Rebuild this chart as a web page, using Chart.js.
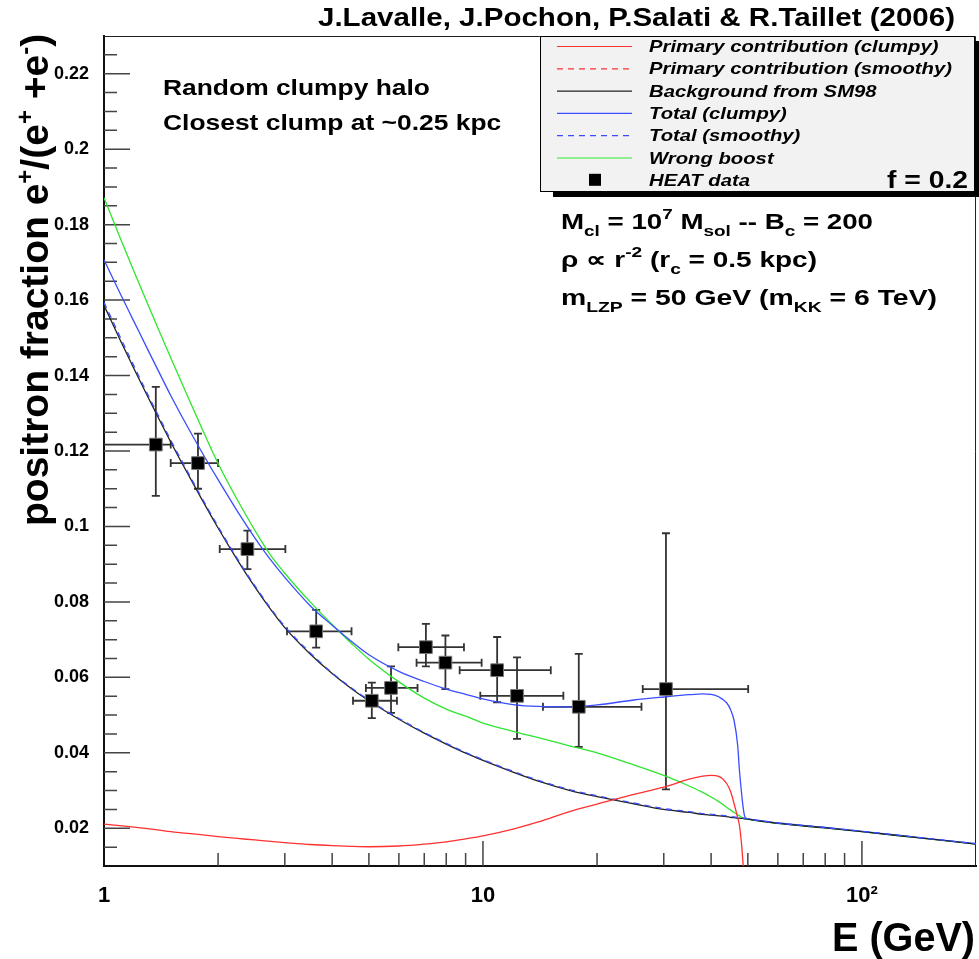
<!DOCTYPE html>
<html>
<head>
<meta charset="utf-8">
<script src="https://cdn.jsdelivr.net/npm/chart.js@4.4.0/dist/chart.umd.min.js"></script>
<style>
  html, body { margin: 0; padding: 0; background: #fff; }
  canvas { display: block; }
</style>
</head>
<body>
<canvas id="myChart" width="979" height="959"></canvas>
<script>
// energy grid (GeV) shared by all model curves
const energy = [1, 1.1, 1.2, 1.3, 1.4, 1.5, 1.6, 1.8,
  2, 2.25, 2.5, 2.75, 3, 3.5,
  4, 4.5, 5, 6, 7, 8, 9, 10,
  12, 14, 17, 20, 25, 30, 35, 38,
  40, 42, 44, 45, 46, 47, 47.5, 48,
  48.5, 49, 49.5, 50, 60, 80, 100, 140,
  200]

const background = [0.1586, 0.1497, 0.1418, 0.1347, 0.1283, 0.1224, 0.1171, 0.1077,
  0.0996, 0.0911, 0.0840, 0.0781, 0.0732, 0.0662,
  0.0610, 0.0570, 0.0538, 0.0489, 0.0452, 0.0423, 0.0399, 0.0380,
  0.0349, 0.0325, 0.0300, 0.0284, 0.0265, 0.0250, 0.0242, 0.0237,
  0.0235, 0.0233, 0.0231, 0.0229, 0.0228, 0.0227, 0.0227, 0.0226,
  0.0226, 0.0225, 0.0225, 0.0224, 0.0213, 0.0201, 0.0191, 0.0175,
  0.0158]

const totalSmooth = [0.1594, 0.1505, 0.1425, 0.1353, 0.1289, 0.1229, 0.1176, 0.1081,
  0.1000, 0.0914, 0.0843, 0.0784, 0.0735, 0.0665,
  0.0612, 0.0572, 0.0540, 0.0491, 0.0454, 0.0425, 0.0401, 0.0382,
  0.0351, 0.0327, 0.0302, 0.0286, 0.0267, 0.0252, 0.0244, 0.0239,
  0.0237, 0.0235, 0.0233, 0.0231, 0.0230, 0.0229, 0.0228, 0.0228,
  0.0227, 0.0226, 0.0226, 0.0225, 0.0214, 0.0202, 0.0192, 0.0176,
  0.0159]

const totalClumpy = [0.1707, 0.1620, 0.1543, 0.1472, 0.1407, 0.1347, 0.1294, 0.1202,
  0.1124, 0.1040, 0.0970, 0.0912, 0.0865, 0.0790,
  0.0738, 0.0695, 0.0660, 0.0616, 0.0589, 0.0569, 0.0555, 0.0543,
  0.0528, 0.0523, 0.0522, 0.0527, 0.0540, 0.0548, 0.0554, 0.0556,
  0.0555, 0.0548, 0.0532, 0.0515, 0.0485, 0.0420, 0.0355, 0.0305,
  0.0262, 0.0233, 0.0226, 0.0225, 0.0214, 0.0202, 0.0192, 0.0176,
  0.0159]

const primaryClumpy = [0.0211, 0.0207, 0.0203, 0.0199, 0.0195, 0.0191, 0.0188, 0.0183,
  0.0178, 0.0173, 0.0169, 0.0165, 0.0162, 0.0157,
  0.0154, 0.0152, 0.0151, 0.0153, 0.0158, 0.0164, 0.0172, 0.0180,
  0.0198, 0.0217, 0.0245, 0.0264, 0.0290, 0.0309, 0.0330, 0.0338,
  0.0340, 0.0337, 0.0318, 0.0298, 0.0265, 0.0228, 0.0208, 0.0170,
  0.0115, 0.0040, null, null, null, null, null, null,
  null]

const wrongBoost = [0.1871, 0.1768, 0.1676, 0.1593, 0.1517, 0.1447, 0.1383, 0.1267,
  0.1167, 0.1070, 0.0990, 0.0924, 0.0876, 0.0800,
  0.0740, 0.0690, 0.0648, 0.0588, 0.0545, 0.0516, 0.0497, 0.0479,
  0.0457, 0.0440, 0.0418, 0.0400, 0.0368, 0.0340, 0.0312, 0.0295,
  0.0283, 0.0270, 0.0255, 0.0248, 0.0242, 0.0236, 0.0233, 0.0230,
  0.0228, 0.0225, 0.0225, 0.0224, 0.0213, 0.0201, 0.0191, 0.0175,
  0.0158]

// HEAT positron fraction with bin edges and error bars
const heatE = [1.37, 1.77, 2.39, 3.63, 5.09, 5.72, 7.07, 7.96, 10.9, 12.3, 17.9, 30.4]
const heatFrac = [0.1217, 0.1168, 0.0940, 0.0722, 0.0538, 0.0572, 0.0680, 0.0639, 0.0619, 0.0551, 0.0522, 0.0569]
const heatLow = [0.1081, 0.1100, 0.0887, 0.0679, 0.0492, 0.0506, 0.0629, 0.0569, 0.0534, 0.0437, 0.0416, 0.0303]
const heatHigh = [0.1370, 0.1246, 0.0989, 0.0779, 0.0586, 0.0629, 0.0742, 0.0711, 0.0707, 0.0653, 0.0662, 0.0982]
const heatEmin = [0.95, 1.50, 2.02, 3.04, 4.54, 4.91, 5.98, 6.68, 8.68, 9.84, 14.4, 26.4]
const heatEmax = [1.50, 2.00, 3.01, 4.50, 5.93, 6.72, 8.91, 9.92, 15.1, 16.3, 26.2, 50.1]

const yTicks = [0.02, 0.04, 0.06, 0.08, 0.1, 0.12, 0.14, 0.16, 0.18, 0.2, 0.22]

const legendOrder = ['Primary contribution (clumpy)', 'Primary contribution (smoothy)', 'Background from SM98',
  'Total (clumpy)', 'Total (smoothy)', 'Wrong boost', 'HEAT data']

const fam = '"Liberation Sans", Arial, Helvetica, sans-serif'
const red = '#ff3030', blue = '#3a4dff', green = '#2ee62e', black = '#222'

const pts = ys => energy.map((e, i) => ({ x: e, y: ys[i] }))

// draws a run of [text, scale, dy] pieces, stretched horizontally by sx
function rich(c, x, y, parts, size, opts = {}) {
    const style = opts.style || 'bold'
    let w = 0
    parts.forEach(([t, k]) => {
        c.font = `${style} ${Math.round(size * k)}px ${fam}`
        w += c.measureText(t).width
    })
    if (opts.measure) return w
    const sx = opts.width ? opts.width / w : (opts.sx || 1)
    c.save()
    c.translate(x, y)
    c.scale(sx, 1)
    let cx = 0
    parts.forEach(([t, k, dy]) => {
        c.font = `${style} ${Math.round(size * k)}px ${fam}`
        c.fillText(t, cx, dy)
        cx += c.measureText(t).width
    })
    c.restore()
    return w * sx
}

function fitted(c, text, left, baseline, size, width, style) {
    return rich(c, left, baseline, [[text, 1, 0]], size, { width, style })
}

const rootFrame = {
    id: 'rootFrame',
    beforeDatasetsDraw(chart) {
        const { ctx: c, chartArea: a, scales: { x, y } } = chart
        c.save()
        c.strokeStyle = '#222'
        c.lineWidth = 1
        c.beginPath()
        c.moveTo(a.left, a.top + 0.5)
        c.lineTo(a.right - 0.5, a.top + 0.5)
        c.lineTo(a.right - 0.5, a.bottom)
        c.stroke()

        // inner tick marks
        c.strokeStyle = '#444'
        c.lineWidth = 1.5
        c.beginPath()
        for (let k = 3; k < 46; k++) {
            const py = y.getPixelForValue(k * 0.005)
            c.moveTo(a.left, py)
            c.lineTo(a.left + (k % 4 === 0 ? 26 : 13), py)
        }
        ;[1, 10, 100].forEach(d => {
            for (let m = 1; m <= 9; m++) {
                const v = m * d
                if (v <= 1 || v >= 200) continue
                const px = x.getPixelForValue(v)
                c.moveTo(px, a.bottom)
                c.lineTo(px, a.bottom - (m === 1 ? 25 : 13))
            }
        })
        c.stroke()

        // HEAT error bars
        c.beginPath()
        c.rect(a.left, a.top, a.width, a.height)
        c.clip()
        c.strokeStyle = '#333'
        c.lineWidth = 1.8
        heatE.forEach((e, i) => {
            const px = x.getPixelForValue(e), py = y.getPixelForValue(heatFrac[i])
            const x0 = x.getPixelForValue(heatEmin[i]), x1 = x.getPixelForValue(heatEmax[i])
            const y0 = y.getPixelForValue(heatLow[i]), y1 = y.getPixelForValue(heatHigh[i])
            c.beginPath()
            c.moveTo(x0, py); c.lineTo(x1, py)
            c.moveTo(px, y0); c.lineTo(px, y1)
            c.moveTo(x0, py - 4); c.lineTo(x0, py + 4)
            c.moveTo(x1, py - 4); c.lineTo(x1, py + 4)
            c.moveTo(px - 4, y0); c.lineTo(px + 4, y0)
            c.moveTo(px - 4, y1); c.lineTo(px + 4, y1)
            c.stroke()
        })
        c.restore()
    },
    afterDraw(chart) {
        const c = chart.ctx
        c.save()
        c.textBaseline = 'alphabetic'

        // legend box with shadow
        c.fillStyle = '#000'
        c.fillRect(553, 192, 426, 5)
        c.fillRect(975, 41, 4, 156)
        c.fillStyle = '#f2f2f2'
        c.fillRect(540, 36, 435, 156)
        c.strokeStyle = '#000'
        c.lineWidth = 1
        c.strokeRect(540.5, 36.5, 434, 155)

        const sets = chart.data.datasets
        c.font = `italic bold 16.5px ${fam}`
        const legSx = 281 / c.measureText(legendOrder[0]).width
        legendOrder.forEach((label, i) => {
            const ds = sets.find(d => d.label === label)
            const cy = 46 + i * 22.3
            if (label === 'HEAT data') {
                c.fillStyle = '#000'
                c.fillRect(589, cy - 6, 12, 12)
            } else {
                c.strokeStyle = ds.borderColor
                c.lineWidth = 1.2
                c.setLineDash(ds.borderDash || [])
                c.beginPath()
                c.moveTo(557, cy + 0.5)
                c.lineTo(632, cy + 0.5)
                c.stroke()
                c.setLineDash([])
            }
            c.fillStyle = '#000'
            rich(c, 649, cy + 6, [[label, 1, 0]], 16.5, { style: 'italic bold', sx: legSx })
        })
        fitted(c, 'f = 0.2', 887, 188, 24, 81)

        // header
        fitted(c, 'J.Lavalle, J.Pochon, P.Salati & R.Taillet (2006)', 318, 26, 25, 637)

        // halo description
        rich(c, 163, 95, [['Random clumpy halo', 1, 0]], 22, { sx: 1.2 })
        rich(c, 163, 130, [['Closest clump at ~0.25 kpc', 1, 0]], 22, { sx: 1.2 })

        // model parameters
        rich(c, 561, 229, [['M', 1, 0], ['cl', 0.7, 7], [' = 10', 1, 0], ['7', 0.7, -10], [' M', 1, 0],
            ['sol', 0.7, 7], [' -- B', 1, 0], ['c', 0.7, 7], [' = 200', 1, 0]], 22, { width: 312 })
        rich(c, 561, 267, [['\u03c1 \u221d r', 1, 0], ['-2', 0.7, -10], [' (r', 1, 0], ['c', 0.7, 7],
            [' = 0.5 kpc)', 1, 0]], 22, { width: 256 })
        rich(c, 561, 305, [['m', 1, 0], ['LZP', 0.7, 7], [' = 50 GeV (m', 1, 0], ['KK', 0.7, 7],
            [' = 6 TeV)', 1, 0]], 22, { width: 376 })

        // axis titles
        fitted(c, 'E (GeV)', 832, 951, 40, 143)

        const yTitle = [['positron fraction e', 1, 0], ['+', 0.62, -14], ['/(e', 1, 0], ['+', 0.62, -14],
            [' +e', 1, 0], ['-', 0.62, -14], [')', 1, 0]]
        const w = rich(c, 0, 0, yTitle, 36, { measure: true })
        const size = 36 * 492 / w
        c.translate(48, 526)
        c.rotate(-Math.PI / 2)
        rich(c, 0, 0, yTitle.map(([t, k, dy]) => [t, k, dy * size / 36]), size)
        c.restore()
    }
}

const ctx = document.getElementById('myChart')
new Chart(ctx, {
    type: 'line',
    data: {
        datasets: [
            {
                label: 'HEAT data',
                data: heatE.map((e, i) => ({ x: e, y: heatFrac[i] })),
                showLine: false,
                pointStyle: 'rect',
                pointRadius: 9,
                backgroundColor: '#000',
                borderColor: '#777',
                borderWidth: 1
            },
            { label: 'Primary contribution (clumpy)', data: pts(primaryClumpy), borderColor: red },
            { label: 'Primary contribution (smoothy)', data: [], borderColor: red, borderDash: [6, 5] },
            { label: 'Total (smoothy)', data: pts(totalSmooth), borderColor: blue, borderDash: [6, 5] },
            { label: 'Background from SM98', data: pts(background), borderColor: black },
            { label: 'Total (clumpy)', data: pts(totalClumpy), borderColor: blue },
            { label: 'Wrong boost', data: pts(wrongBoost), borderColor: green }
        ]
    },
    options: {
        responsive: false,
        animation: false,
        layout: { autoPadding: false, padding: { top: 36, right: 3, left: 0, bottom: 0 } },
        elements: {
            point: { radius: 0 },
            line: { borderWidth: 1.3, cubicInterpolationMode: 'monotone', fill: false }
        },
        plugins: { legend: { display: false }, tooltip: { enabled: false } },
        scales: {
            x: {
                type: 'logarithmic',
                min: 1,
                max: 200,
                grid: { display: false, drawTicks: true, tickLength: 17 },
                border: { display: true, color: '#111', width: 2 },
                ticks: {
                    autoSkip: false,
                    maxRotation: 0,
                    padding: 0,
                    color: '#000',
                    font: { family: fam, size: 22, weight: 'bold' },
                    callback: v => v === 1 ? '1' : v === 10 ? '10' : v === 100 ? '10\u00b2' : ''
                },
                afterFit: s => {
                    s.height = 93
                    s.paddingLeft = 0
                    s.paddingRight = 0
                }
            },
            y: {
                type: 'linear',
                min: 0.01,
                max: 0.23,
                grid: { display: false },
                border: { display: true, color: '#111', width: 2 },
                ticks: {
                    padding: 7,
                    color: '#000',
                    font: { family: fam, size: 18, weight: 'bold' },
                    callback: v => String(+v.toFixed(2))
                },
                afterBuildTicks: s => { s.ticks = yTicks.map(v => ({ value: v })) },
                afterFit: s => { s.width = 104 }
            }
        }
    },
    plugins: [rootFrame]
})
</script>
</body>
</html>
